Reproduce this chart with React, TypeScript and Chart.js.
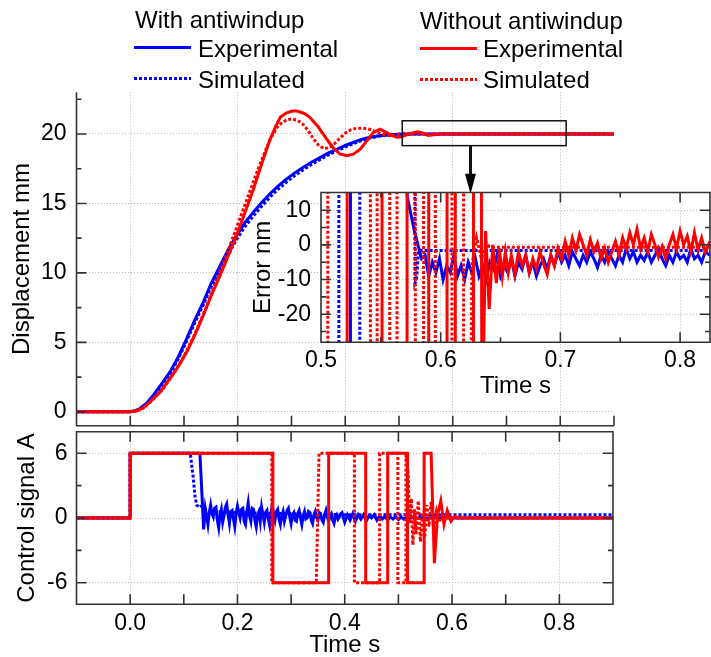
import React, { useEffect, useRef } from 'react';
import { Chart, registerables } from 'chart.js';

Chart.register(...registerables);

const FONT = "'Liberation Sans', Arial, Helvetica, sans-serif";
const BLUE = '#0000ff';
const RED = '#ff0000';
const AXIS = '#333333';
const GRID = '#b8b8b8';
const H = 400; // off-scale level for the near-vertical swings of the error

// ---------------- Displacement (mm) vs time (s) ----------------
const dispRedExpT = [-0.1, 0, 0.012, 0.025, 0.037, 0.055, 0.074, 0.09, 0.105, 0.12, 0.136, 0.15, 0.167, 0.182, 0.198, 0.213, 0.229, 0.245, 0.26, 0.27, 0.279, 0.29, 0.3, 0.307, 0.315, 0.325, 0.334, 0.35, 0.366, 0.378, 0.39, 0.403, 0.415, 0.428, 0.44, 0.452, 0.465, 0.477, 0.486, 0.496, 0.505, 0.514, 0.525, 0.535, 0.545, 0.554, 0.565, 0.58, 0.9];
const dispRedExp = [0, 0, 0.06, 0.3, 0.72, 1.4, 2.4, 3.3, 4.3, 5.5, 6.95, 8.3, 9.8, 11.2, 12.7, 14.3, 16.0, 17.9, 19.6, 20.5, 21.2, 21.5, 21.63, 21.67, 21.6, 21.45, 21.2, 20.5, 19.6, 19.0, 18.56, 18.44, 18.55, 18.9, 19.5, 20.1, 20.35, 20.1, 19.9, 19.76, 19.8, 19.93, 20.08, 20.15, 20.05, 19.9, 19.95, 20.0, 20.0];

const dispRedSimT = [-0.1, 0, 0.012, 0.025, 0.04, 0.06, 0.08, 0.1, 0.12, 0.14, 0.16, 0.18, 0.2, 0.22, 0.24, 0.26, 0.275, 0.29, 0.3, 0.31, 0.32, 0.33, 0.34, 0.35, 0.36, 0.37, 0.38, 0.39, 0.4, 0.41, 0.42, 0.43, 0.44, 0.45, 0.46, 0.47, 0.48, 0.49, 0.5, 0.51, 0.52, 0.54, 0.9];
const dispRedSim = [0, 0, 0.07, 0.3, 0.8, 1.6, 2.7, 4.0, 5.6, 7.4, 9.4, 11.4, 13.5, 15.6, 17.7, 19.6, 20.6, 21.0, 21.08, 21.0, 20.75, 20.3, 19.7, 19.2, 18.95, 19.0, 19.3, 19.7, 20.05, 20.3, 20.4, 20.42, 20.38, 20.28, 20.12, 19.98, 19.88, 19.9, 20.0, 20.05, 20.02, 20.0, 20.0];

const dispBlueT = [-0.1, 0, 0.01, 0.018, 0.03, 0.043, 0.058, 0.074, 0.09, 0.105, 0.12, 0.136, 0.15, 0.167, 0.182, 0.198, 0.213, 0.229, 0.245, 0.26, 0.275, 0.291, 0.306, 0.322, 0.337, 0.353, 0.368, 0.384, 0.4, 0.415, 0.43, 0.446, 0.462, 0.477, 0.5, 0.53, 0.56, 0.9];
const dispBlueExp = [0, 0, 0.08, 0.24, 0.6, 1.2, 2.0, 2.87, 4.0, 5.27, 6.6, 7.9, 9.2, 10.5, 11.65, 12.7, 13.6, 14.37, 15.08, 15.7, 16.25, 16.77, 17.2, 17.6, 17.97, 18.3, 18.62, 18.9, 19.17, 19.4, 19.6, 19.76, 19.87, 19.93, 19.98, 20.0, 20.0, 20.0];
const dispBlueSim = [0, 0, 0.07, 0.22, 0.55, 1.1, 1.9, 2.75, 3.85, 5.1, 6.4, 7.7, 8.95, 10.2, 11.35, 12.4, 13.3, 14.1, 14.82, 15.45, 16.02, 16.55, 17.0, 17.42, 17.8, 18.15, 18.48, 18.78, 19.06, 19.3, 19.52, 19.7, 19.83, 19.91, 19.97, 20.0, 20.0, 20.0];

// ---------------- Control signal (A) vs time (s) ----------------
const ctrlRedExpT = [-0.1, 0, 0, 0.266, 0.266, 0.37, 0.37, 0.439, 0.439, 0.48, 0.48, 0.517, 0.517, 0.548, 0.548, 0.561, 0.567, 0.573, 0.579, 0.585, 0.591, 0.598, 0.605, 0.612, 0.9];
const ctrlRedExp = [0, 0, 6, 6, -6, -6, 6, 6, -6, -6, 6, 6, -6, -6, 6, 6, -4.2, 0.3, 1.6, -0.6, 0.7, -0.3, 0.15, 0, 0];

const ctrlRedSimT = [-0.1, 0, 0, 0.264, 0.264, 0.347, 0.352, 0.418, 0.418, 0.465, 0.465, 0.499, 0.499, 0.514, 0.514, 0.518, 0.521, 0.524, 0.527, 0.53, 0.533, 0.537, 0.541, 0.545, 0.549, 0.553, 0.557, 0.561, 0.566, 0.571, 0.576, 0.582, 0.588, 0.595, 0.602, 0.9];
const ctrlRedSim = [0, 0, 6, 6, -6, -6, 6, 6, -6, -6, 6, 6, -6, -6, 6, 4.3, -0.5, 1.8, -2.5, 0.8, -1.5, 1.6, -2.2, 0.5, -1.8, 1.2, -0.8, 1.5, -1.0, 0.6, -0.4, 0.3, -0.2, 0.1, 0, 0];

const ctrlBlueSimT = [-0.1, 0, 0, 0.112, 0.117, 0.121, 0.124, 0.128, 0.132, 0.14, 0.16, 0.2, 0.3, 0.4, 0.5, 0.6, 0.9];
const ctrlBlueSim = [0, 0, 6, 6, 4.0, 2.0, 1.2, 1.0, 1.1, 0.8, 0.6, 0.5, 0.4, 0.3, 0.3, 0.3, 0.3];

const ctrlBlueExpT = [-0.1, 0, 0, 0.13, 0.134, 0.137,
  0.14, 0.1425, 0.145, 0.1475, 0.15, 0.1525, 0.155, 0.1575, 0.16, 0.1625, 0.165, 0.1675, 0.17, 0.1725, 0.175, 0.1775, 0.18, 0.1825, 0.185, 0.1875, 0.19, 0.1925, 0.195, 0.1975,
  0.2, 0.2025, 0.205, 0.2075, 0.21, 0.2125, 0.215, 0.2175, 0.22, 0.2225, 0.225, 0.2275, 0.23, 0.2325, 0.235, 0.2375, 0.24, 0.2425, 0.245, 0.2475,
  0.25, 0.2525, 0.255, 0.2575, 0.26, 0.2625, 0.265, 0.2675, 0.27, 0.2725, 0.275, 0.2775, 0.28, 0.2825, 0.285, 0.2875, 0.29, 0.2925, 0.295, 0.2975,
  0.3, 0.3025, 0.305, 0.3075, 0.31, 0.3125, 0.315, 0.3175, 0.32, 0.3225, 0.325, 0.3275, 0.33, 0.3325, 0.335, 0.3375, 0.34, 0.3425, 0.345, 0.3475,
  0.35, 0.3525, 0.355, 0.3575, 0.36, 0.3625, 0.365, 0.3675, 0.37, 0.3725, 0.375, 0.3775, 0.38, 0.3825, 0.385, 0.3875, 0.39, 0.3925, 0.395, 0.3975,
  0.4, 0.405, 0.41, 0.415, 0.42, 0.425, 0.43, 0.435, 0.44, 0.445, 0.45, 0.455, 0.46, 0.465, 0.47, 0.475, 0.48, 0.485, 0.49, 0.495,
  0.5, 0.505, 0.51, 0.515, 0.52, 0.525, 0.53, 0.54, 0.55, 0.56, 0.58, 0.9];
const ctrlBlueExp = [0, 0, 6, 6, 2.0, -1.05,
  0.9, 0.2, -0.6, 0.5, 1.2, 0.4, 0.1, 0.9, 1.0, -0.2, -0.9, 0.3, 0.8, -0.4, 0.2, 1.0, 1.3, 0.3, -0.5, 0.6, 0.7, -0.1, -0.8, 0.4,
  1.1, 0.5, 0.0, 0.8, 0.9, -0.3, -0.6, 0.6, 1.4, 0.2, -0.3, 0.9, 0.8, -0.2, -0.8, 0.3, 0.6, -0.3, 1.0, 0.3,
  -0.4, 0.5, 0.7, -0.1, -0.7, 0.4, 1.2, 0.3, -0.2, 0.6, 0.8, -0.1, -0.6, 0.2, 0.6, -0.3, 0.2, 0.7, 0.9, 0.1,
  -0.5, 0.3, 0.5, -0.2, -0.3, 0.4, 0.7, 0.0, -0.6, 0.2, 0.6, -0.1, 0.0, 0.6, 0.5, -0.2, -0.5, 0.3, 0.6, 0.0,
  -0.2, 0.5, 0.4, -0.2, -0.4, 0.3, 0.7, 0.1, -0.3, 0.2, 0.4, -0.2, -0.5, 0.1, 0.3, -0.1, 0.1, 0.4, 0.5, 0.0,
  -0.4, 0.3, -0.2, 0.4, -0.3, 0.3, -0.1, 0.3, -0.3, 0.2, 0.0, 0.3, -0.2, 0.2, -0.1, 0.15, -0.2, 0.1, -0.1, 0.15,
  -0.15, 0.1, -0.1, 0.05, -0.1, 0.1, -0.05, 0.05, -0.05, 0.02, 0.0, 0.0];

// ---------------- Inset: error (nm) vs time (s) ----------------
const errRedExpT = [0.5, 0.5218, 0.5218, 0.551, 0.551, 0.5719, 0.5719, 0.59, 0.59, 0.6053, 0.6053, 0.6122, 0.6122, 0.6274, 0.6274, 0.6315, 0.6345, 0.6375, 0.6405, 0.6435, 0.6465, 0.649, 0.6515, 0.654, 0.6565, 0.659,
  0.662, 0.665, 0.668, 0.671, 0.674, 0.677, 0.68, 0.683, 0.686, 0.689, 0.692, 0.695, 0.698, 0.701, 0.704, 0.707, 0.71, 0.713, 0.716, 0.719, 0.722, 0.725, 0.728, 0.731, 0.734, 0.737, 0.74, 0.743,
  0.746, 0.749, 0.752, 0.755, 0.758, 0.761, 0.764, 0.767, 0.77, 0.773, 0.776, 0.779, 0.782, 0.785, 0.788, 0.791, 0.794, 0.797, 0.8, 0.803, 0.806, 0.809, 0.812, 0.815, 0.818, 0.821, 0.825];
const errRedExp = [-H, -H, H, H, -H, -H, H, H, -H, -H, H, H, -H, -H, H, H, -60, 4, -18.5, 0, -11, -1, -9, -2, -8, -3,
  -8.5, -2, -6, -3, -8, -4, -7, -2, -5.5, -8.5, -3, -6, -1, -4, 1, -3, 2, -1.5, 3, 0, -3, 1.5, -2, 0.5, -4, -1, -5, -2,
  1, -3, 2, -1, 3.5, 0, 4.5, -1, 2, -2, 3, 0, -3.5, -0.5, -4, 0, 3, -1, 4, 0, 2.5, -2, 3.5, -1.5, 2, -2, 1];

const errRedSimT = [0.5, 0.5057, 0.5057, 0.5413, 0.5413, 0.5469, 0.5469, 0.5574, 0.5574, 0.5635, 0.5635, 0.5788, 0.5788, 0.5857, 0.5857, 0.5955, 0.5955, 0.6094, 0.6094, 0.6191, 0.6191, 0.626, 0.63, 0.634, 0.638, 0.642, 0.825];
const errRedSim = [-H, -H, H, H, -H, -H, H, H, -H, -H, H, H, -H, -H, H, H, -H, -H, H, H, -H, -6, 2, -4, 0, -0.7, -0.7];

const errBlueExpT = [0.5, 0.5246, 0.5246, 0.5705, 0.572, 0.575, 0.578, 0.581, 0.584, 0.587, 0.59, 0.593, 0.596, 0.599, 0.602, 0.605, 0.608, 0.611, 0.614, 0.617, 0.62, 0.623, 0.626, 0.629,
  0.632, 0.635, 0.638, 0.641, 0.644, 0.647, 0.65, 0.653, 0.656, 0.659, 0.662, 0.665, 0.668, 0.671, 0.674, 0.677, 0.68, 0.683, 0.686, 0.689, 0.692, 0.695, 0.698, 0.701, 0.704, 0.707,
  0.71, 0.713, 0.716, 0.719, 0.722, 0.725, 0.728, 0.731, 0.734, 0.737, 0.74, 0.743, 0.746, 0.749, 0.752, 0.755, 0.758, 0.761, 0.764, 0.767, 0.77, 0.773, 0.776, 0.779,
  0.782, 0.785, 0.788, 0.791, 0.794, 0.797, 0.8, 0.803, 0.806, 0.809, 0.812, 0.815, 0.818, 0.821, 0.825];
const errBlueExp = [-H, -H, H, H, 14, 9, 4, 0, -4, -3, -9, -5, -8, -4, -10, -6, -8, -3, -9, -6, -10, -5, -8, -4,
  -9, -6, -10, -5, -7, -3, -9, -6, -8, -4, -9, -5, -7, -3, -8, -5, -9, -6, -4, -7, -3, -6, -2, -5, -3, -6,
  -2, -4, -6, -3, -5, -2, -4, -6.5, -3, -5, -2, -4, -6, -3, -5, -1, -4, -2, -5, -3, -4.5, -2, -5, -3,
  -1, -4, -6, -3, -5, -2, -4, -3, -5, -1, -4, -3, -5, -2, -3];

const errBlueSimT = [0.5, 0.5149, 0.5149, 0.5324, 0.5324, 0.5775, 0.5785, 0.5798, 0.5815, 0.825];
const errBlueSim = [H, H, -H, -H, H, H, -11, -10, -1.65, -1.65];

// ---------------- Axis ticks ----------------
const timeLabelTicks = [0, 0.2, 0.4, 0.6, 0.8];
const timeMajorTicks = [-0.1, 0, 0.1, 0.2, 0.3, 0.4, 0.5, 0.6, 0.7, 0.8, 0.9];
const dispLabelTicks = [0, 5, 10, 15, 20];
const dispMinorTicks = [2.5, 7.5, 12.5, 17.5, 22.5];
const ctrlLabelTicks = [-6, 0, 6];
const ctrlMinorTicks = [-3, 3];
const errLabelTicks = [-20, -10, 0, 10];
const errMinorTicks = [-25, -15, -5, 5];
const insetTimeTicks = [0.5, 0.6, 0.7, 0.8];
const insetTimeMinor = [0.55, 0.65, 0.75];

// zoom box and arrow in displacement units
const zoomBoxX = [0.506, 0.811];
const zoomBoxY = [19.16, 20.95];
const arrowX = 0.633;
const arrowTipY = 15.7;

const pts = (t: number[], v: number[]) => t.map((x, i) => ({ x, y: v[i] }));

const setTicks = (vals: number[]) => (axis: any) => {
  axis.ticks = vals.map((v) => ({ value: v }));
};

interface FrameSpec {
  box: boolean;
  fill?: string;
  xMajor: number[];
  xMinor: number[];
  yMajor: number[];
  yMinor: number[];
  xSides: ('top' | 'bottom')[];
  ySides: ('left' | 'right')[];
  majorLen: number;
  minorLen: number;
}

function makeFrame(spec: FrameSpec) {
  return {
    id: 'frame',
    beforeDraw(chart: any) {
      if (!spec.fill) return;
      const { ctx, chartArea: a } = chart;
      ctx.save();
      ctx.fillStyle = spec.fill;
      ctx.fillRect(a.left, a.top, a.right - a.left, a.bottom - a.top);
      ctx.restore();
    },
    afterDatasetsDraw(chart: any) {
      const { ctx, chartArea: a, scales } = chart;
      const xs = scales.x;
      const ys = scales.y;
      ctx.save();
      ctx.setLineDash([]);
      ctx.strokeStyle = AXIS;
      ctx.lineWidth = 1.6;
      ctx.beginPath();
      if (spec.box) {
        ctx.rect(a.left, a.top, a.right - a.left, a.bottom - a.top);
      } else {
        ctx.moveTo(a.left, a.top);
        ctx.lineTo(a.left, a.bottom);
        ctx.lineTo(a.right, a.bottom);
      }
      const xTick = (vals: number[], len: number) =>
        vals.forEach((v) => {
          const px = xs.getPixelForValue(v);
          spec.xSides.forEach((s) => {
            const y0 = s === 'bottom' ? a.bottom : a.top;
            const dir = s === 'bottom' ? -1 : 1;
            ctx.moveTo(px, y0);
            ctx.lineTo(px, y0 + dir * len);
          });
        });
      const yTick = (vals: number[], len: number) =>
        vals.forEach((v) => {
          const py = ys.getPixelForValue(v);
          spec.ySides.forEach((s) => {
            const x0 = s === 'left' ? a.left : a.right;
            const dir = s === 'left' ? 1 : -1;
            ctx.moveTo(x0, py);
            ctx.lineTo(x0 + dir * len, py);
          });
        });
      xTick(spec.xMajor, spec.majorLen);
      xTick(spec.xMinor, spec.minorLen);
      yTick(spec.yMajor, spec.majorLen);
      yTick(spec.yMinor, spec.minorLen);
      ctx.stroke();
      ctx.restore();
    },
  };
}

const zoomMarker = {
  id: 'zoomMarker',
  afterDatasetsDraw(chart: any) {
    const { ctx, scales } = chart;
    const xs = scales.x;
    const ys = scales.y;
    const x0 = xs.getPixelForValue(zoomBoxX[0]);
    const x1 = xs.getPixelForValue(zoomBoxX[1]);
    const y0 = ys.getPixelForValue(zoomBoxY[1]);
    const y1 = ys.getPixelForValue(zoomBoxY[0]);
    const ax = xs.getPixelForValue(arrowX);
    const tip = ys.getPixelForValue(arrowTipY);
    ctx.save();
    ctx.setLineDash([]);
    ctx.strokeStyle = '#111';
    ctx.lineWidth = 1.5;
    ctx.strokeRect(x0, y0, x1 - x0, y1 - y0);
    ctx.lineWidth = 3;
    ctx.beginPath();
    ctx.moveTo(ax, y1);
    ctx.lineTo(ax, tip - 16);
    ctx.stroke();
    ctx.fillStyle = '#000';
    ctx.beginPath();
    ctx.moveTo(ax - 5.5, tip - 20);
    ctx.lineTo(ax + 5.5, tip - 20);
    ctx.lineTo(ax, tip);
    ctx.closePath();
    ctx.fill();
    ctx.restore();
  },
};

const line = (data: { x: number; y: number }[], color: string, dashed: boolean) => ({
  data,
  borderColor: color,
  backgroundColor: color,
  borderWidth: 3,
  borderDash: dashed ? [3, 2] : [],
  pointRadius: 0,
  tension: 0,
  fill: false,
});

const tickFont = { family: FONT, size: 23 };
const titleFont = { family: FONT, size: 24, lineHeight: 1 };

function baseOptions(extra: any) {
  return {
    responsive: false,
    maintainAspectRatio: false,
    animation: false,
    devicePixelRatio: 1,
    events: [],
    plugins: { legend: { display: false }, tooltip: { enabled: false } },
    ...extra,
  };
}

export default function App() {
  const mainRef = useRef<HTMLCanvasElement>(null);
  const ctrlRef = useRef<HTMLCanvasElement>(null);
  const insetRef = useRef<HTMLCanvasElement>(null);

  useEffect(() => {
    const charts: Chart[] = [];

    charts.push(
      new Chart(mainRef.current as HTMLCanvasElement, {
        type: 'line',
        data: {
          datasets: [
            line(pts(dispRedExpT, dispRedExp), RED, false),
            line(pts(dispRedSimT, dispRedSim), RED, true),
            line(pts(dispBlueT, dispBlueSim), BLUE, true),
            line(pts(dispBlueT, dispBlueExp), BLUE, false),
          ],
        },
        options: baseOptions({
          layout: { padding: { left: 0, top: 92.3, right: 97, bottom: 231.3 } },
          scales: {
            x: {
              type: 'linear', min: -0.1, max: 0.9,
              afterBuildTicks: setTicks(timeLabelTicks),
              afterFit: (s: any) => { s.height = 0; },
              ticks: { display: false },
              grid: { color: GRID, lineWidth: 1, drawTicks: false },
              border: { display: false, dash: [1, 2] },
            },
            y: {
              type: 'linear', min: -1, max: 23,
              afterBuildTicks: setTicks(dispLabelTicks),
              afterFit: (s: any) => { s.width = 76.5; },
              ticks: { font: tickFont, color: '#000', padding: 10, callback: (v: any) => String(v) },
              grid: { color: GRID, lineWidth: 1, drawTicks: false },
              border: { display: false, dash: [1, 2] },
              title: { display: true, text: 'Displacement mm', font: titleFont, color: '#000', padding: { top: 10, bottom: 0 } },
            },
          },
        }),
        plugins: [
          makeFrame({ box: false, xMajor: timeMajorTicks, xMinor: [], yMajor: dispLabelTicks, yMinor: dispMinorTicks, xSides: ['bottom'], ySides: ['left'], majorLen: 10, minorLen: 5 }),
          zoomMarker,
        ],
      } as any)
    );

    charts.push(
      new Chart(ctrlRef.current as HTMLCanvasElement, {
        type: 'line',
        data: {
          datasets: [
            line(pts(ctrlRedExpT, ctrlRedExp), RED, false),
            line(pts(ctrlRedSimT, ctrlRedSim), RED, true),
            line(pts(ctrlBlueExpT, ctrlBlueExp), BLUE, false),
            line(pts(ctrlBlueSimT, ctrlBlueSim), BLUE, true),
          ],
        },
        options: baseOptions({
          layout: { padding: { left: 0, top: 431.7, right: 98, bottom: 0 } },
          scales: {
            x: {
              type: 'linear', min: -0.1, max: 0.9,
              afterBuildTicks: setTicks(timeLabelTicks),
              afterFit: (s: any) => { s.height = 52.7; },
              ticks: { font: tickFont, color: '#000', padding: 6, maxRotation: 0, autoSkip: false, callback: (v: any) => Number(v).toFixed(1) },
              grid: { color: GRID, lineWidth: 1, drawTicks: false },
              border: { display: false, dash: [1, 2] },
              title: { display: true, text: 'Time s', font: titleFont, color: '#000', padding: { top: 0, bottom: 0 } },
            },
            y: {
              type: 'linear', min: -8, max: 8,
              afterBuildTicks: setTicks(ctrlLabelTicks),
              afterFit: (s: any) => { s.width = 76.5; },
              ticks: { font: tickFont, color: '#000', padding: 9, callback: (v: any) => String(v) },
              grid: { color: GRID, lineWidth: 1, drawTicks: false },
              border: { display: false, dash: [1, 2] },
              title: { display: true, text: 'Control signal A', font: titleFont, color: '#000', padding: { top: 15, bottom: 0 } },
            },
          },
        }),
        plugins: [
          makeFrame({ box: true, xMajor: timeMajorTicks, xMinor: [], yMajor: ctrlLabelTicks, yMinor: ctrlMinorTicks, xSides: ['top', 'bottom'], ySides: ['left', 'right'], majorLen: 10, minorLen: 5 }),
        ],
      } as any)
    );

    charts.push(
      new Chart(insetRef.current as HTMLCanvasElement, {
        type: 'line',
        data: {
          datasets: [
            line(pts(errRedExpT, errRedExp), RED, false),
            line(pts(errRedSimT, errRedSim), RED, true),
            line(pts(errBlueSimT, errBlueSim), BLUE, true),
            line(pts(errBlueExpT, errBlueExp), BLUE, false),
          ],
        },
        options: baseOptions({
          layout: { padding: { left: 0, top: 192.5, right: 1, bottom: 257 } },
          scales: {
            x: {
              type: 'linear', min: 0.5, max: 0.825,
              afterBuildTicks: setTicks(insetTimeTicks),
              afterFit: (s: any) => { s.height = 57.7; },
              ticks: { font: tickFont, color: '#000', padding: 5, maxRotation: 0, autoSkip: false, callback: (v: any) => Number(v).toFixed(1) },
              grid: { color: GRID, lineWidth: 1, drawTicks: false },
              border: { display: false, dash: [1, 2] },
              title: { display: true, text: 'Time s', font: titleFont, color: '#000', padding: { top: 0, bottom: 2 } },
            },
            y: {
              type: 'linear', min: -28.1, max: 15.1,
              afterBuildTicks: setTicks(errLabelTicks),
              afterFit: (s: any) => { s.width = 321; },
              ticks: { font: tickFont, color: '#000', padding: 10, callback: (v: any) => String(v) },
              grid: { color: GRID, lineWidth: 1, drawTicks: false },
              border: { display: false, dash: [1, 2] },
              title: { display: true, text: 'Error nm', font: titleFont, color: '#000', padding: { top: 251, bottom: 0 } },
            },
          },
        }),
        plugins: [
          makeFrame({ box: true, fill: '#ffffff', xMajor: insetTimeTicks, xMinor: insetTimeMinor, yMajor: errLabelTicks, yMinor: errMinorTicks, xSides: ['top', 'bottom'], ySides: ['left', 'right'], majorLen: 10, minorLen: 5 }),
        ],
      } as any)
    );

    return () => charts.forEach((c) => c.destroy());
  }, []);

  const canvasStyle: React.CSSProperties = { position: 'absolute', left: 0, top: 0, width: 711, height: 657 };
  const text = (s: string, left: number, top: number) => (
    <span style={{ position: 'absolute', left, top, fontSize: 24, lineHeight: '24px', whiteSpace: 'nowrap', color: '#000' }}>{s}</span>
  );
  const solid = (left: number, top: number, color: string) => (
    <div style={{ position: 'absolute', left, top, width: 57, height: 3, background: color }} />
  );
  const dotted = (left: number, top: number, color: string) => (
    <div style={{ position: 'absolute', left, top, width: 57, height: 3, background: `repeating-linear-gradient(to right, ${color} 0px, ${color} 3px, transparent 3px, transparent 5px)` }} />
  );

  return (
    <div style={{ position: 'absolute', left: 0, top: 0, width: 711, height: 657, background: '#fff', fontFamily: FONT, overflow: 'hidden' }}>
      <canvas ref={mainRef} width={711} height={657} style={canvasStyle} />
      <canvas ref={ctrlRef} width={711} height={657} style={canvasStyle} />
      <canvas ref={insetRef} width={711} height={657} style={canvasStyle} />
      {text('With antiwindup', 135, 8)}
      {solid(134, 46, BLUE)}
      {text('Experimental', 198, 37)}
      {dotted(134, 77, BLUE)}
      {text('Simulated', 198, 68)}
      {text('Without antiwindup', 420, 9)}
      {solid(420, 47, RED)}
      {text('Experimental', 483, 37)}
      {dotted(420, 78, RED)}
      {text('Simulated', 483, 68)}
    </div>
  );
}
